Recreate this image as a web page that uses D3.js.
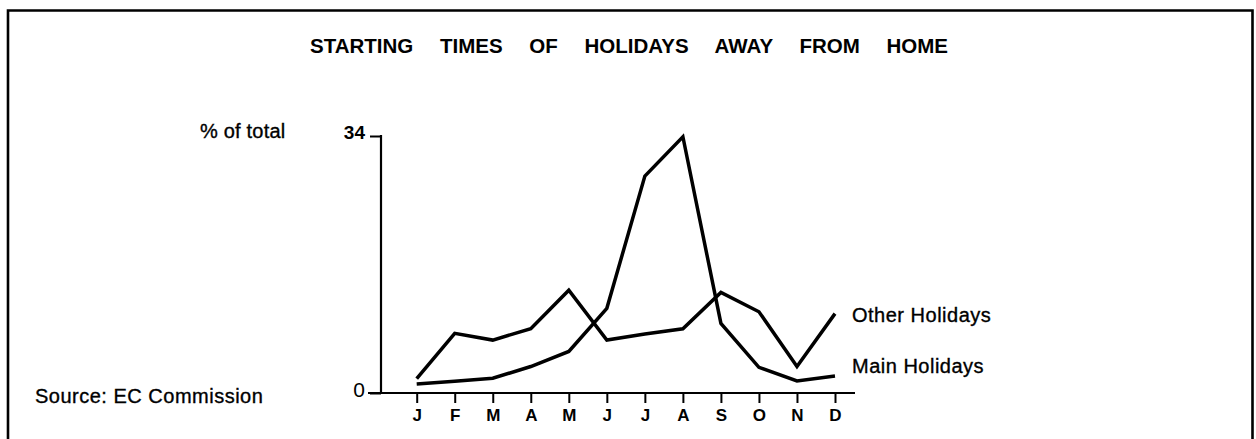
<!DOCTYPE html>
<html>
<head>
<meta charset="utf-8">
<script src="https://cdn.jsdelivr.net/npm/d3@7"></script>
<style>
  body { margin: 0; background: #fff; }
  text { font-family: "Liberation Sans", Arial, sans-serif; fill: #000; }
  .lbl { stroke: #000; stroke-width: 0.35px; letter-spacing: 0.5px; }
</style>
</head>
<body>
<script>
'use strict';

// chart data
const months = ["Jan", "Feb", "Mar", "Apr", "May", "Jun", "Jul", "Aug", "Sep", "Oct", "Nov", "Dec"];
const monthLabels = ["J", "F", "M", "A", "M", "J", "J", "A", "S", "O", "N", "D"];
const mainHolidays = [1.2, 1.55, 1.95, 3.5, 5.5, 11.2, 28.7, 33.9, 9.2, 3.4, 1.6, 2.25];
const otherHolidays = [1.9, 7.9, 7.0, 8.5, 13.6, 7.0, 7.8, 8.5, 13.3, 10.75, 3.5, 10.5];
const yTicks = [0, 34];
const yTickLabels = ["0", "34"];
const titleText = "STARTING TIMES OF HOLIDAYS AWAY FROM HOME";

(function() {

    const W = 1256, H = 439;

    let svg = d3.select("body").append("svg")
        .attr("width", W)
        .attr("height", H);

    // frame (bottom edge falls outside the picture)
    svg.append("path")
        .attr("d", "M8," + (H + 5) + "V10.5H1252.5V" + (H + 5))
        .attr("fill", "none")
        .attr("stroke", "#000")
        .attr("stroke-width", 2.6);

    // title, spread out word by word
    let title = svg.append("text")
        .attr("x", 310)
        .attr("y", 53)
        .attr("font-size", 20.5)
        .attr("font-weight", "bold")
        .text(titleText);
    let natural = title.node().getComputedTextLength();
    let gaps = titleText.split(" ").length - 1;
    title.style("word-spacing", ((948 - 310 - natural) / gaps) + "px");

    const x = d3.scaleLinear()
        .domain([0, months.length - 1])
        .range([416.7, 835]);

    const y = d3.scaleLinear()
        .domain([0, 34])
        .range([393, 136]);

    // y axis
    let yAxis = svg.append("g")
        .attr("transform", "translate(381,0)")
        .call(d3.axisLeft(y).tickValues(yTicks).tickSize(11).tickPadding(5)
            .tickFormat((d, i) => yTickLabels[i]));
    yAxis.select(".domain").remove();
    yAxis.selectAll("line").attr("stroke", "#000").attr("stroke-width", 2);
    yAxis.selectAll("text")
        .attr("font-family", "Liberation Sans, Arial, sans-serif")
        .attr("font-size", 19)
        .attr("font-weight", "bold")
        .attr("dy", "0.15em");
    yAxis.selectAll(".tick").filter(d => d === 0).select("text")
        .attr("font-weight", "normal").attr("font-size", 21);

    svg.append("line")
        .attr("x1", 381).attr("x2", 381)
        .attr("y1", y(34) - 1).attr("y2", y(0))
        .attr("stroke", "#000")
        .attr("stroke-width", 2.2);

    // x axis
    let xAxis = svg.append("g")
        .attr("transform", "translate(0," + y(0) + ")")
        .call(d3.axisBottom(x).tickValues(d3.range(months.length)).tickSize(10).tickPadding(6)
            .tickFormat(i => monthLabels[i]));
    xAxis.select(".domain").remove();
    xAxis.selectAll("line").attr("stroke", "#000").attr("stroke-width", 2);
    xAxis.selectAll("text")
        .attr("font-family", "Liberation Sans, Arial, sans-serif")
        .attr("font-size", 17)
        .attr("font-weight", "bold");

    svg.append("line")
        .attr("x1", 368).attr("x2", 855)
        .attr("y1", y(0)).attr("y2", y(0))
        .attr("stroke", "#000")
        .attr("stroke-width", 2.2);

    // series
    const line = d3.line()
        .x((d, i) => x(i))
        .y(d => y(d));

    [otherHolidays, mainHolidays].forEach(function(series) {
        svg.append("path")
            .datum(series)
            .attr("d", line)
            .attr("fill", "none")
            .attr("stroke", "#000")
            .attr("stroke-width", 3.5)
            .attr("stroke-linejoin", "miter");
    });

    // labels
    svg.append("text").attr("class", "lbl").attr("x", 852).attr("y", 322).attr("font-size", 20).text("Other Holidays");
    svg.append("text").attr("class", "lbl").attr("x", 852).attr("y", 373).attr("font-size", 20).text("Main Holidays");
    svg.append("text").attr("class", "lbl").attr("x", 200).attr("y", 138).attr("font-size", 20)
        .style("letter-spacing", "0.2px").text("% of total");
    svg.append("text").attr("class", "lbl").attr("x", 35).attr("y", 403).attr("font-size", 20).text("Source: EC Commission");

})()
</script>
</body>
</html>
